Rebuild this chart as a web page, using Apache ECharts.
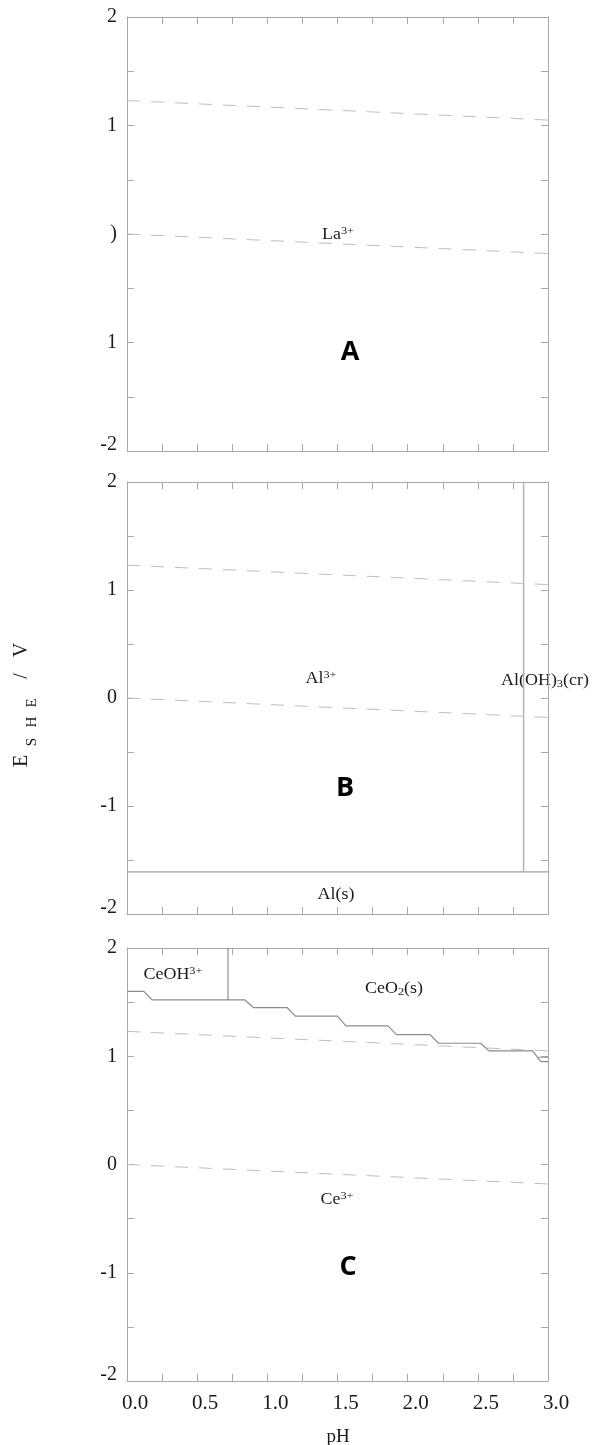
<!DOCTYPE html>
<html>
<head>
<meta charset="utf-8">
<style>
  html, body { margin: 0; padding: 0; background: #fff; }
  #chart { width: 594px; height: 1445px; }
</style>
<script src="https://cdn.jsdelivr.net/npm/echarts@6/dist/echarts.min.js"></script>
</head>
<body>
<div id="chart"></div>
<script>
// ---------- data ----------
const xTickLabels = ['0.0', '0.5', '1.0', '1.5', '2.0', '2.5', '3.0'];
const yTickLabels = ['-2', '-1', '0', '1', '2'];
const yTickLabelsA = ['-2', '1', ')', '1', '2']; // as visible (clipped) in panel A

const waterUpperPH = [0, 3];
const waterUpperE = [1.23, 1.05];
const waterLowerPH = [0, 3];
const waterLowerE = [0.0, -0.18];

const alSolidPH = [0, 3];
const alSolidE = [-1.61, -1.61];
const alOHPH = [2.826, 2.826];
const alOHE = [-1.61, 2];

const ceStepPH = [0, 0.12, 0.18, 0.84, 0.90, 1.14, 1.20, 1.50, 1.56, 1.86, 1.92, 2.16, 2.22, 2.52, 2.58, 2.89, 2.95, 3.0];
const ceStepE  = [1.60, 1.60, 1.52, 1.52, 1.45, 1.45, 1.37, 1.37, 1.28, 1.28, 1.20, 1.20, 1.12, 1.12, 1.05, 1.05, 0.95, 0.95];
const ceBranchPH = [2.93, 3.0];
const ceBranchE = [0.99, 0.99];
const ceOHPH = [0.72, 0.72];
const ceOHE = [1.52, 2];

// ---------- helpers ----------
const zip = (xs, ys) => xs.map((x, i) => [x, ys[i]]);
const SERIF = '"Liberation Serif", "Times New Roman", serif';
const AX = '#a8a8a8';
const TXT = '#1a1a1a';

const grids = [
  { left: 127, top: 17, width: 421, height: 434, outerBoundsMode: 'none' },
  { left: 127, top: 482, width: 421, height: 432, outerBoundsMode: 'none' },
  { left: 127, top: 948, width: 421, height: 433, outerBoundsMode: 'none' }
];

function xLabelFmt(v) {
  const idx = Math.round(v / 0.5);
  if (Math.abs(v - idx * 0.5) > 1e-6) return '';
  return xTickLabels[idx];
}
function yLabelFmt(labels) {
  return function (v) {
    const idx = Math.round(v + 2);
    if (Math.abs(v - (idx - 2)) > 1e-6) return '';
    const t = labels[idx];
    return idx === 0 ? '{lo|' + t + '}' : t;
  };
}

const xAxes = [], yAxes = [];
grids.forEach((g, gi) => {
  ['bottom', 'top'].forEach(pos => {
    xAxes.push({
      gridIndex: gi, type: 'value', min: 0, max: 3, interval: 0.25, position: pos,
      axisLine: { show: true, onZero: false, lineStyle: { color: AX, width: 1 } },
      axisTick: { show: true, inside: true, length: 7, lineStyle: { color: AX } },
      splitLine: { show: false },
      axisLabel: {
        show: gi === 2 && pos === 'bottom', formatter: xLabelFmt, margin: 12,
        color: TXT, fontFamily: SERIF, fontSize: 21, padding: [0, 0, 0, 16]
      }
    });
  });
  ['left', 'right'].forEach(pos => {
    const labels = gi === 0 ? yTickLabelsA : yTickLabels;
    yAxes.push({
      gridIndex: gi, type: 'value', min: -2, max: 2, interval: 0.5, position: pos,
      axisLine: { show: true, onZero: false, lineStyle: { color: AX, width: 1 } },
      axisTick: { show: true, inside: true, length: 7, lineStyle: { color: AX } },
      splitLine: { show: false },
      axisLabel: {
        show: pos === 'left', formatter: yLabelFmt(labels), margin: 10,
        color: TXT, fontFamily: SERIF, fontSize: 20,
        rich: { lo: { fontFamily: SERIF, fontSize: 20, color: TXT, padding: [0, 0, 12, 0] } }
      }
    });
  });
});

function lineSeries(gi, data, color, width, dashed) {
  return {
    type: 'line', xAxisIndex: gi * 2, yAxisIndex: gi * 2, data: data,
    symbol: 'none', silent: true, animation: false,
    lineStyle: { color: color, width: width, type: dashed ? [13, 11] : 'solid' }
  };
}

const DASH = '#bdbdbd';
const series = [];
[0, 1, 2].forEach(gi => {
  series.push(lineSeries(gi, zip(waterUpperPH, waterUpperE), DASH, 1, true));
  series.push(lineSeries(gi, zip(waterLowerPH, waterLowerE), DASH, 1, true));
});
series.push(lineSeries(1, zip(alSolidPH, alSolidE), '#a0a0a0', 1.2, false));
series.push(lineSeries(1, zip(alOHPH, alOHE), '#b4b4b4', 1.5, false));
series.push(lineSeries(2, zip(ceStepPH, ceStepE), '#8c8c8c', 1.2, false));
series.push(lineSeries(2, zip(ceBranchPH, ceBranchE), '#9a9a9a', 1, false));
series.push(lineSeries(2, zip(ceOHPH, ceOHE), '#7a7a7a', 1, false));

// ---------- text labels ----------
function species(x, y, text) {
  return {
    type: 'text', x: x, y: y, scaleX: 1.12, silent: true,
    style: {
      text: text, align: 'center', verticalAlign: 'middle', fill: TXT,
      rich: {
        m: { fontFamily: SERIF, fontSize: 16, fill: TXT, lineHeight: 18 },
        sup: { fontFamily: SERIF, fontSize: 11, fill: TXT, lineHeight: 11, verticalAlign: 'top' },
        sub: { fontFamily: SERIF, fontSize: 11, fill: TXT, lineHeight: 11, verticalAlign: 'bottom' }
      }
    }
  };
}
function big(x, y, t) {
  return {
    type: 'text', x: x, y: y, silent: true,
    style: { text: t, align: 'center', verticalAlign: 'middle', fill: '#000',
             font: 'bold 27px "Open Sans", "Noto Sans", sans-serif' }
  };
}
function rot(x, y, t, size) {
  return {
    type: 'text', x: x, y: y, rotation: Math.PI / 2, silent: true,
    style: { text: t, align: 'center', verticalAlign: 'middle', fill: TXT,
             font: size + 'px ' + SERIF }
  };
}

const graphics = [
  species(338, 235, '{m|La}{sup|3+}'),
  big(350, 352, 'A'),
  species(321, 679, '{m|Al}{sup|3+}'),
  species(545, 681, '{m|Al(OH)}{sub|3}{m|(cr)}'),
  species(336, 895, '{m|Al(s)}'),
  big(345, 788, 'B'),
  species(173, 975, '{m|CeOH}{sup|3+}'),
  species(394, 989, '{m|CeO}{sub|2}{m|(s)}'),
  species(337, 1200, '{m|Ce}{sup|3+}'),
  big(348, 1267, 'C'),
  // y-axis title  E_SHE / V
  rot(22, 761, 'E', 20),
  rot(32, 742, 'S', 15),
  rot(32, 722, 'H', 15),
  rot(32, 703, 'E', 15),
  rot(22, 676, '/', 20),
  rot(22, 650, 'V', 20),
  // x-axis title
  { type: 'text', x: 338, y: 1437, silent: true,
    style: { text: 'pH', align: 'center', verticalAlign: 'middle', fill: TXT, font: '19px ' + SERIF } }
];

const chart = echarts.init(document.getElementById('chart'), null, { renderer: 'canvas' });
chart.setOption({
  animation: false,
  backgroundColor: '#fff',
  grid: grids,
  xAxis: xAxes,
  yAxis: yAxes,
  series: series,
  graphic: graphics
});
</script>
</body>
</html>
